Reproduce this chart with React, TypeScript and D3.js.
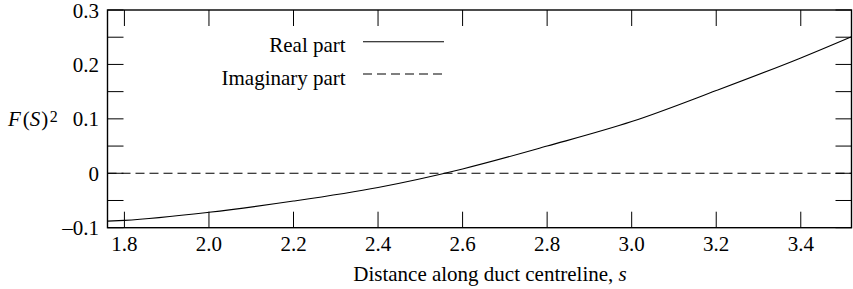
import React from "react";
import * as d3 from "d3";

// distance along duct centreline, s
const sValues = [1.76, 1.8, 2.0, 2.2, 2.4, 2.6, 2.8, 3.0, 3.2, 3.4, 3.52];
// real part of F(S)^2
const realPart = [-0.088, -0.0865, -0.0717, -0.051, -0.026, 0.008, 0.05, 0.095, 0.152, 0.212, 0.251];
// imaginary part of F(S)^2
const imagPart = [0, 0, 0, 0, 0, 0, 0, 0, 0, 0, 0];

const xTicks = [1.8, 2.0, 2.2, 2.4, 2.6, 2.8, 3.0, 3.2, 3.4];
const yTicks = [-0.1, -0.05, 0, 0.05, 0.1, 0.15, 0.2, 0.25, 0.3];
const yLabels = [-0.1, 0, 0.1, 0.2, 0.3];

const legendItems = ["Real part", "Imaginary part"];

const width = 853;
const height = 289;
const margin = { left: 107.5, right: 1.5, top: 10, bottom: 61.3 };
const font = "Liberation Serif, serif";
const fs = 21;
const tickLen = 16;

const x = d3.scaleLinear().domain([1.76, 3.52]).range([margin.left, width - margin.right]);
const y = d3.scaleLinear().domain([-0.1, 0.3]).range([height - margin.bottom, margin.top]);

const fmtY = (d: number) =>
  d === 0 ? "0" : d < 0 ? "\u2013" + d3.format(".1f")(-d) : d3.format(".1f")(d);

export default function App() {
  const data = sValues.map((s, i) => ({ s, re: realPart[i], im: imagPart[i] }));

  const lineRe = d3
    .line<{ s: number; re: number }>()
    .x((d) => x(d.s))
    .y((d) => y(d.re))
    .curve(d3.curveMonotoneX);
  const lineIm = d3
    .line<{ s: number; im: number }>()
    .x((d) => x(d.s))
    .y((d) => y(d.im));

  const [x0, x1] = x.range();
  const [y0, y1] = y.range(); // y0 bottom, y1 top

  return (
    <svg
      width={width}
      height={height}
      style={{ position: "absolute", left: 0, top: 0, fontFamily: font, fontSize: fs }}
    >
      {/* x ticks, top and bottom, inward */}
      {xTicks.map((t) => (
        <g key={"x" + t}>
          <line x1={x(t)} x2={x(t)} y1={y0} y2={y0 - tickLen} stroke="#000" />
          <line x1={x(t)} x2={x(t)} y1={y1} y2={y1 + tickLen} stroke="#000" />
          <text x={x(t)} y={y0 + 23.5} textAnchor="middle">
            {d3.format(".1f")(t)}
          </text>
        </g>
      ))}
      {/* y ticks, left and right, inward */}
      {yTicks.map((t) => (
        <g key={"y" + t}>
          <line x1={x0} x2={x0 + tickLen} y1={y(t)} y2={y(t)} stroke="#000" />
          <line x1={x1} x2={x1 - tickLen} y1={y(t)} y2={y(t)} stroke="#000" />
        </g>
      ))}
      {yLabels.map((t) => (
        <text key={"yl" + t} x={x0 - 8.5} y={y(t) + 7.5} textAnchor="end">
          {fmtY(t)}
        </text>
      ))}

      {/* frame */}
      <rect x={x0} y={y1} width={x1 - x0} height={y0 - y1} fill="none" stroke="#000" strokeWidth={1.4} />

      {/* series */}
      <path d={lineRe(data) || ""} fill="none" stroke="#000" strokeWidth={1.1} />
      <path d={lineIm(data) || ""} fill="none" stroke="#000" strokeWidth={1.1} strokeDasharray="9,5" />

      {/* legend */}
      {legendItems.map((name, i) => {
        const ly = 41.7 + i * 32.3;
        return (
          <g key={name}>
            <text x={345.7} y={ly + 10.5} textAnchor="end">
              {name}
            </text>
            <line
              x1={363}
              x2={444}
              y1={ly}
              y2={ly}
              stroke="#000"
              strokeWidth={1.1}
              strokeDasharray={i === 1 ? "9,5" : undefined}
            />
          </g>
        );
      })}

      {/* y label */}
      <text x={8} y={126}>
        <tspan fontStyle="italic">F</tspan>
        <tspan dx={2}>(</tspan>
        <tspan fontStyle="italic">S</tspan>
        <tspan dx={1}>)</tspan>
        <tspan dx={1.5} dy={-4.5} style={{ fontSize: 16 }}>
          2
        </tspan>
      </text>

      {/* x label */}
      <text x={490} y={281} textAnchor="middle">
        <tspan>Distance along duct centreline, </tspan>
        <tspan fontStyle="italic">s</tspan>
      </text>
    </svg>
  );
}
